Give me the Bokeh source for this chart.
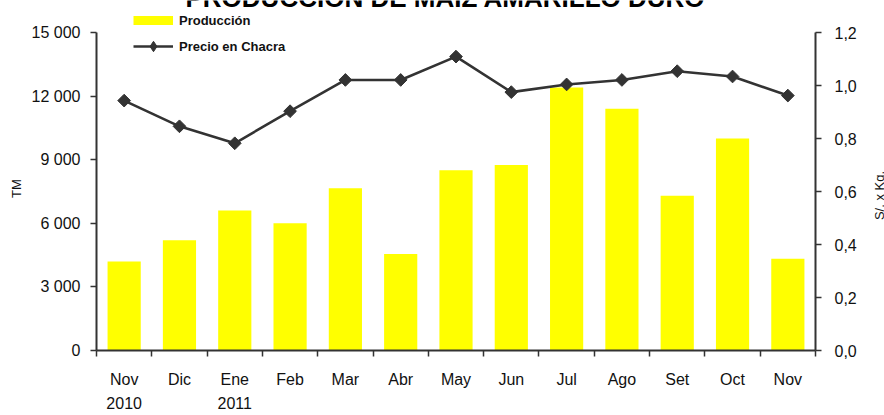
import math
from bokeh.plotting import figure
from bokeh.models import (Range1d, LinearAxis, FixedTicker, Label, Legend, LegendItem)
from bokeh.embed import file_html
from bokeh.resources import INLINE

# ---------------- data ----------------
months = ["Nov", "Dic", "Ene", "Feb", "Mar", "Abr", "May", "Jun", "Jul", "Ago", "Set", "Oct", "Nov"]
produccion = [4200, 5200, 6600, 6000, 7650, 4550, 8500, 8750, 12400, 11400, 7300, 10000, 4330]
precio = [0.943, 0.846, 0.782, 0.903, 1.021, 1.021, 1.109, 0.975, 1.004, 1.021, 1.054, 1.034, 0.962]
years = ["2010", "2011"]
year_idx = [0, 2]
left_ticks = [0, 3000, 6000, 9000, 12000, 15000]
left_labels = ["0", "3 000", "6 000", "9 000", "12 000", "15 000"]
right_ticks = [0.0, 0.2, 0.4, 0.6, 0.8, 1.0, 1.2]
right_labels = ["0,0", "0,2", "0,4", "0,6", "0,8", "1,0", "1,2"]
title_text = "PRODUCCIÓN DE MAIZ AMARILLO DURO"
y_label_left = "TM"
y_label_right = "S/. x Kg."
legend_labels = ["Producción", "Precio en Chacra"]

# ---------------- layout ----------------
FONT = "Liberation Sans"
AX = "#333333"
TXT = "#111111"
W, H = 884, 415
LEFT = 96                         # pixels left of the first month slot
PLOT_W = 719                      # pixels used by the 13 month slots
TOP_PAD, BOTTOM_PAD = 32, 65      # pixels above the 15 000 line / below the 0 line
PLOT_H = H - BOTTOM_PAD - TOP_PAD # pixels used by the value axes
Y_MAX, P_MAX = 15000, 1.2
n = len(months)
x_lo, x_hi = -0.5, n - 0.5
x_start = x_lo - LEFT * n / PLOT_W
x_end = x_lo + n * (W - LEFT) / PLOT_W
y_start = -BOTTOM_PAD * Y_MAX / PLOT_H
y_end = Y_MAX + TOP_PAD * Y_MAX / PLOT_H
p_scale = P_MAX / Y_MAX

xs = list(range(n))

p = figure(width=W, height=H, output_backend="svg", toolbar_location=None,
           x_range=Range1d(x_start, x_end), y_range=Range1d(y_start, y_end),
           min_border_left=0, min_border_right=0, min_border_top=0,
           min_border_bottom=0)
p.outline_line_color = None
p.xgrid.visible = False
p.ygrid.visible = False
p.background_fill_color = "white"
p.border_fill_color = "white"
p.extra_y_ranges = {"price": Range1d(y_start * p_scale, y_end * p_scale)}

bars = p.vbar(x=xs, top=produccion, width=0.6, fill_color="#FFFF00", line_color=None)
ln = p.line(x=xs, y=precio, y_range_name="price", line_color="#333333", line_width=2.6)
mk = p.scatter(x=xs, y=precio, y_range_name="price", marker="square", angle=math.pi / 4,
               size=9, fill_color="#333333", line_color="#333333")

# legend-only renderers (kept outside the visible range)
sw = p.line(x=[-5, -4], y=[-9000, -9000], line_color="#FFFF00", line_width=9)
lg_mk = p.scatter(x=[-5], y=[-9000], marker="diamond", fill_color="#333333",
                  line_color="#333333", size=9)

# month axis, pinned at value 0
xa = p.xaxis[0]
xa.fixed_location = 0
xa.bounds = (x_lo, x_hi)
xa.ticker = FixedTicker(ticks=xs, minor_ticks=[i - 0.5 for i in range(n + 1)])
xa.major_label_overrides = {i: m for i, m in enumerate(months)}
xa.major_tick_out = 0
xa.major_tick_in = 0
xa.minor_tick_out = 6
xa.minor_tick_in = 0
xa.minor_tick_line_color = AX
xa.minor_tick_line_width = 1.5
xa.axis_line_color = AX
xa.axis_line_width = 2
xa.major_label_standoff = 14
xa.major_label_text_font = FONT
xa.major_label_text_font_size = "16px"
xa.major_label_text_color = TXT

# year labels (second row under the months)
yr = LinearAxis(ticker=FixedTicker(ticks=year_idx, minor_ticks=[]), fixed_location=0)
yr.major_label_overrides = dict(zip(year_idx, years))
yr.axis_line_color = None
yr.major_tick_line_color = None
yr.minor_tick_line_color = None
yr.major_tick_out = 0
yr.major_tick_in = 0
yr.minor_tick_out = 0
yr.minor_tick_in = 0
yr.major_label_standoff = 46
yr.major_label_text_font = FONT
yr.major_label_text_font_size = "16px"
yr.major_label_text_color = TXT
p.add_layout(yr, "below")

# left axis, pinned to the left edge of the month slots
ya = p.yaxis[0]
ya.fixed_location = x_lo
ya.ticker = FixedTicker(ticks=left_ticks)
ya.bounds = (0, Y_MAX)
ya.major_label_overrides = dict(zip(left_ticks, left_labels))
ya.major_tick_out = 6
ya.major_tick_in = 0
ya.minor_tick_out = 0
ya.minor_tick_in = 0
ya.major_tick_line_color = AX
ya.major_tick_line_width = 1.5
ya.axis_line_color = AX
ya.axis_line_width = 2
ya.major_label_standoff = 10
ya.major_label_text_font = FONT
ya.major_label_text_font_size = "16px"
ya.major_label_text_color = TXT

# right axis, pinned to the right edge of the month slots
ra = LinearAxis(y_range_name="price", ticker=FixedTicker(ticks=right_ticks),
                fixed_location=x_hi)
ra.bounds = (0, P_MAX)
ra.major_label_overrides = dict(zip(right_ticks, right_labels))
ra.major_tick_out = 6
ra.major_tick_in = 0
ra.minor_tick_out = 0
ra.minor_tick_in = 0
ra.major_tick_line_color = AX
ra.major_tick_line_width = 1.5
ra.axis_line_color = AX
ra.axis_line_width = 2
ra.major_label_standoff = 13
ra.major_label_text_font = FONT
ra.major_label_text_font_size = "16px"
ra.major_label_text_color = TXT
p.add_layout(ra, "right")

# axis titles, reading bottom-to-top
p.add_layout(Label(x=x_lo, y=Y_MAX / 2, x_offset=-80, y_offset=3, text=y_label_left,
                   angle=math.pi / 2, text_align="center", text_baseline="middle",
                   text_font=FONT, text_font_size="13px", text_color=TXT))
p.add_layout(Label(x=x_hi, y=Y_MAX / 2, x_offset=64, y_offset=-4, text=y_label_right,
                   angle=math.pi / 2, text_align="center", text_baseline="middle",
                   text_font=FONT, text_font_size="13px", text_color=TXT))

# title (cut at the top edge, as in the reference)
p.add_layout(Label(x=5.81, y=Y_MAX, y_offset=35, text=title_text, text_align="center",
                   text_baseline="alphabetic", text_font=FONT, text_font_size="26px",
                   text_font_style="bold", text_color="#000000"))

legend = Legend(items=[LegendItem(label=legend_labels[0], renderers=[sw]),
                       LegendItem(label=legend_labels[1], renderers=[ln, lg_mk])],
                location=(37 + LEFT, 291 + BOTTOM_PAD), orientation="vertical",
                glyph_width=40, glyph_height=26, label_height=26, spacing=0,
                label_standoff=6, padding=0, margin=0,
                border_line_color=None, background_fill_alpha=0,
                label_text_font=FONT, label_text_font_size="13px",
                label_text_font_style="bold", label_text_color=TXT)
p.add_layout(legend, "center")

open("out.html", "w").write(file_html(p, INLINE))
